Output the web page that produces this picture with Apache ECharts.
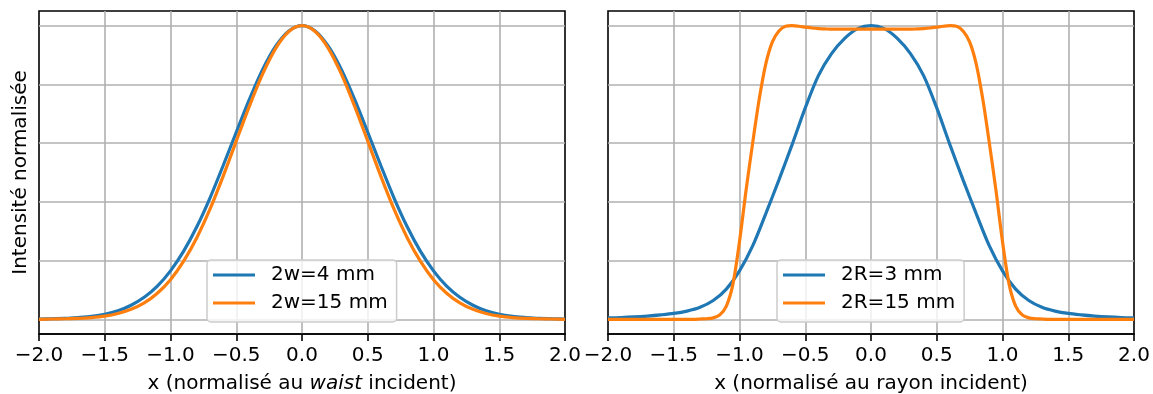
<!DOCTYPE html>
<html><head><meta charset="utf-8">
<script src="https://cdn.jsdelivr.net/npm/echarts@6/dist/echarts.min.js"></script>
<style>html,body{margin:0;padding:0;background:#fff}#c{width:1153px;height:394px}</style>
</head><body><div id="c"></div>
<script>
// x samples (step 0.1)
const xCoarse = [-2.0,-1.9,-1.8,-1.7,-1.6,-1.5,-1.4,-1.3,-1.2,-1.1,-1.0,-0.9,-0.8,-0.7,-0.6,-0.5,-0.4,-0.3,-0.2,-0.1,0.0,0.1,0.2,0.3,0.4,0.5,0.6,0.7,0.8,0.9,1.0,1.1,1.2,1.3,1.4,1.5,1.6,1.7,1.8,1.9,2.0];
// x samples (step 0.05)
const xFine = [-2.00,-1.95,-1.90,-1.85,-1.80,-1.75,-1.70,-1.65,-1.60,-1.55,-1.50,-1.45,-1.40,-1.35,-1.30,-1.25,-1.20,-1.15,-1.10,-1.05,-1.00,-0.95,-0.90,-0.85,-0.80,-0.75,-0.70,-0.65,-0.60,-0.55,-0.50,-0.45,-0.40,-0.35,-0.30,-0.25,-0.20,-0.15,-0.10,-0.05,0.00,0.05,0.10,0.15,0.20,0.25,0.30,0.35,0.40,0.45,0.50,0.55,0.60,0.65,0.70,0.75,0.80,0.85,0.90,0.95,1.00,1.05,1.10,1.15,1.20,1.25,1.30,1.35,1.40,1.45,1.50,1.55,1.60,1.65,1.70,1.75,1.80,1.85,1.90,1.95,2.00];

// left panel (on xCoarse)
const waist4 = [0.001,0.002,0.003,0.006,0.010,0.017,0.029,0.048,0.075,0.113,0.165,0.232,0.315,0.413,0.523,0.637,0.749,0.850,0.930,0.982,1.000,0.982,0.930,0.850,0.749,0.637,0.523,0.413,0.315,0.232,0.165,0.113,0.075,0.048,0.029,0.017,0.010,0.006,0.003,0.002,0.001];
const waist15 = [0.000,0.001,0.002,0.003,0.006,0.011,0.020,0.034,0.056,0.089,0.135,0.198,0.278,0.375,0.487,0.607,0.726,0.835,0.923,0.980,1.000,0.980,0.923,0.835,0.726,0.607,0.487,0.375,0.278,0.198,0.135,0.089,0.056,0.034,0.020,0.011,0.006,0.003,0.002,0.001,0.000];

// right panel
const rayon3 = [0.005,0.006,0.008,0.011,0.015,0.020,0.028,0.041,0.064,0.103,0.165,0.250,0.360,0.475,0.595,0.720,0.830,0.905,0.957,0.990,1.000,0.990,0.957,0.905,0.830,0.720,0.595,0.475,0.360,0.250,0.165,0.103,0.064,0.041,0.028,0.020,0.015,0.011,0.008,0.006,0.005];
const rayon15 = [0,0,0,0,0,0,0,0,0,0,0,0,0,0,0.001,0.002,0.005,0.015,0.045,0.120,0.265,0.440,0.600,0.750,0.870,0.945,0.982,0.998,1.000,0.998,0.995,0.992,0.990,0.989,0.988,0.988,0.988,0.988,0.988,0.988,0.988,0.988,0.988,0.988,0.988,0.988,0.988,0.989,0.990,0.992,0.995,0.998,1.000,0.998,0.982,0.945,0.870,0.750,0.600,0.440,0.265,0.120,0.045,0.015,0.005,0.002,0.001,0,0,0,0,0,0,0,0,0,0,0,0,0,0];

const namesLeft = ['2w=4 mm', '2w=15 mm'];
const namesRight = ['2R=3 mm', '2R=15 mm'];
const yLabel = 'Intensité normalisée';
const xLabelRight = 'x (normalisé au rayon incident)';

const FONT = 'DejaVu Sans';
const BLUE = '#1f77b4', ORANGE = '#ff7f0e';
const pairs = (xs, ys) => xs.map((x, i) => [x, ys[i]]);
const fmt = v => (v < 0 ? '\u2212' : '') + Math.abs(v).toFixed(1);

function xAxis(gi, name, rich) {
  return {
    type: 'value', gridIndex: gi, min: -2, max: 2, interval: 0.5,
    axisLine: { show: true, onZero: false, lineStyle: { color: '#000', width: 1.6 } },
    axisTick: { show: true, length: 7, lineStyle: { color: '#000', width: 1.6 } },
    axisLabel: { margin: 12, color: '#000', fontSize: 20, fontFamily: FONT, formatter: fmt, showMinLabel: true, showMaxLabel: true },
    splitLine: { show: true, showMinLine: false, showMaxLine: false, lineStyle: { color: '#b0b0b0', width: 1.6 } },
    name: name, nameLocation: 'middle', nameGap: 40,
    nameTextStyle: { color: '#000', fontSize: 20, fontFamily: FONT, rich: rich }
  };
}
function yAxis(gi, name) {
  return {
    type: 'value', gridIndex: gi, min: -0.05, max: 1.05, minInterval: 0.2, maxInterval: 0.2,
    axisLine: { show: false }, axisTick: { show: false }, axisLabel: { show: false },
    splitLine: { show: true, showMinLine: false, showMaxLine: false, lineStyle: { color: '#b0b0b0', width: 1.6 } },
    name: name || '', nameLocation: 'middle', nameGap: 8,
    nameTextStyle: { color: '#000', fontSize: 20, fontFamily: FONT }
  };
}
function line(name, data, color, xi) {
  return {
    type: 'line', name, data, xAxisIndex: xi, yAxisIndex: xi,
    showSymbol: false, smooth: 0.3, clip: true,
    lineStyle: { color, width: 3.2 }, itemStyle: { color }
  };
}
function legend(names, left) {
  return {
    data: names, orient: 'vertical', left: left, top: 260,
    icon: 'rect', itemWidth: 42, itemHeight: 3, itemGap: 8,
    padding: [5, 9, 9, 6],
    backgroundColor: 'rgba(255,255,255,0.8)', borderColor: '#cccccc', borderWidth: 1.5, borderRadius: 4,
    textStyle: { color: '#000', fontSize: 20, fontFamily: FONT, padding: [0, 0, 0, 11] }
  };
}

const chart = echarts.init(document.getElementById('c'), null, { renderer: 'canvas' });
chart.setOption({
  animation: false,
  backgroundColor: '#fff',
  grid: [
    { left: 39, top: 11, width: 526, height: 323, show: true, borderColor: '#000', borderWidth: 1.6, containLabel: false, outerBoundsMode: 'none' },
    { left: 608, top: 11, width: 526, height: 323, show: true, borderColor: '#000', borderWidth: 1.6, containLabel: false, outerBoundsMode: 'none' }
  ],
  xAxis: [
    xAxis(0, '{a|x (normalisé au }{i|waist}{a| incident)}', {
      a: { fontSize: 20, fontFamily: FONT, color: '#000' },
      i: { fontSize: 20, fontFamily: FONT, color: '#000', fontStyle: 'italic' }
    }),
    xAxis(1, xLabelRight)
  ],
  yAxis: [yAxis(0, yLabel), yAxis(1, '')],
  legend: [legend(namesLeft, 207), legend(namesRight, 777)],
  series: [
    line(namesLeft[0], pairs(xCoarse, waist4), BLUE, 0),
    line(namesLeft[1], pairs(xCoarse, waist15), ORANGE, 0),
    line(namesRight[0], pairs(xCoarse, rayon3), BLUE, 1),
    line(namesRight[1], pairs(xFine, rayon15), ORANGE, 1)
  ]
});
</script></body></html>
